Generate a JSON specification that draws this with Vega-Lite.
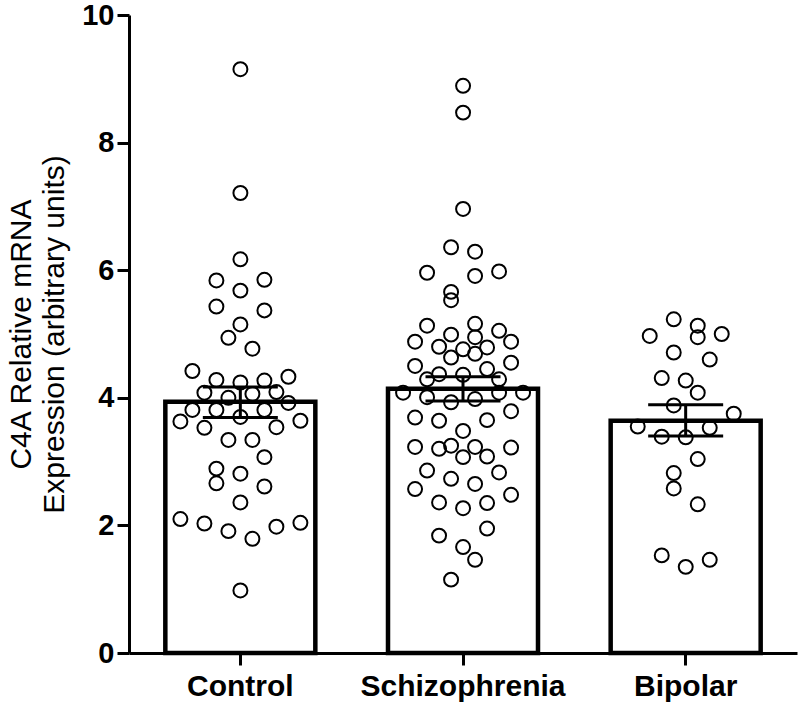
{
  "$schema": "https://vega.github.io/schema/vega-lite/v6.json",
  "width": 668,
  "height": 638,
  "autosize": {"type": "none"},
  "padding": {"left": 129, "top": 15, "right": 3, "bottom": 49},
  "background": "white",
  "config": {
    "view": {"stroke": null},
    "font": "Liberation Sans",
    "axis": {
      "grid": false,
      "domainColor": "black",
      "domainWidth": 3,
      "tickColor": "black",
      "tickWidth": 3,
      "labelColor": "black",
      "labelFont": "Liberation Sans",
      "labelFontWeight": "bold",
      "labelFontSize": 29,
      "labelLimit": 0,
      "titleColor": "black",
      "titleFont": "Liberation Sans"
    }
  },
  "datasets": {
    "summary": [
      {"group": "Control", "mean": 3.94, "lo": 3.69, "hi": 4.17},
      {"group": "Schizophrenia", "mean": 4.14, "lo": 3.95, "hi": 4.33},
      {"group": "Bipolar", "mean": 3.64, "lo": 3.40, "hi": 3.89}
    ],
    "points": [
      {"group": "Control", "value": 9.15, "slot": 0},
      {"group": "Control", "value": 7.21, "slot": 0},
      {"group": "Control", "value": 6.17, "slot": 0},
      {"group": "Control", "value": 5.84, "slot": -2},
      {"group": "Control", "value": 5.85, "slot": 2},
      {"group": "Control", "value": 5.68, "slot": 0},
      {"group": "Control", "value": 5.43, "slot": -2},
      {"group": "Control", "value": 5.37, "slot": 2},
      {"group": "Control", "value": 5.15, "slot": 0},
      {"group": "Control", "value": 4.94, "slot": -1},
      {"group": "Control", "value": 4.77, "slot": 1},
      {"group": "Control", "value": 4.42, "slot": -4},
      {"group": "Control", "value": 4.28, "slot": -2},
      {"group": "Control", "value": 4.24, "slot": 0},
      {"group": "Control", "value": 4.27, "slot": 2},
      {"group": "Control", "value": 4.33, "slot": 4},
      {"group": "Control", "value": 4.08, "slot": -3},
      {"group": "Control", "value": 4.0, "slot": -1},
      {"group": "Control", "value": 4.06, "slot": 1},
      {"group": "Control", "value": 4.09, "slot": 3},
      {"group": "Control", "value": 3.92, "slot": 4},
      {"group": "Control", "value": 3.81, "slot": -4},
      {"group": "Control", "value": 3.81, "slot": -2},
      {"group": "Control", "value": 3.70, "slot": 0},
      {"group": "Control", "value": 3.81, "slot": 2},
      {"group": "Control", "value": 3.63, "slot": -5},
      {"group": "Control", "value": 3.53, "slot": -3},
      {"group": "Control", "value": 3.54, "slot": 3},
      {"group": "Control", "value": 3.64, "slot": 5},
      {"group": "Control", "value": 3.34, "slot": -1},
      {"group": "Control", "value": 3.34, "slot": 1},
      {"group": "Control", "value": 3.07, "slot": 2},
      {"group": "Control", "value": 2.89, "slot": -2},
      {"group": "Control", "value": 2.81, "slot": 0},
      {"group": "Control", "value": 2.66, "slot": -2},
      {"group": "Control", "value": 2.61, "slot": 2},
      {"group": "Control", "value": 2.36, "slot": 0},
      {"group": "Control", "value": 2.10, "slot": -5},
      {"group": "Control", "value": 2.03, "slot": -3},
      {"group": "Control", "value": 1.91, "slot": -1},
      {"group": "Control", "value": 1.79, "slot": 1},
      {"group": "Control", "value": 1.98, "slot": 3},
      {"group": "Control", "value": 2.04, "slot": 5},
      {"group": "Control", "value": 0.98, "slot": 0},
      {"group": "Schizophrenia", "value": 8.89, "slot": 0},
      {"group": "Schizophrenia", "value": 8.47, "slot": 0},
      {"group": "Schizophrenia", "value": 6.96, "slot": 0},
      {"group": "Schizophrenia", "value": 6.36, "slot": -1},
      {"group": "Schizophrenia", "value": 6.29, "slot": 1},
      {"group": "Schizophrenia", "value": 5.96, "slot": -3},
      {"group": "Schizophrenia", "value": 5.91, "slot": 1},
      {"group": "Schizophrenia", "value": 5.98, "slot": 3},
      {"group": "Schizophrenia", "value": 5.66, "slot": -1},
      {"group": "Schizophrenia", "value": 5.53, "slot": -1},
      {"group": "Schizophrenia", "value": 5.13, "slot": -3},
      {"group": "Schizophrenia", "value": 5.16, "slot": 1},
      {"group": "Schizophrenia", "value": 4.99, "slot": -1},
      {"group": "Schizophrenia", "value": 5.05, "slot": 3},
      {"group": "Schizophrenia", "value": 4.88, "slot": -4},
      {"group": "Schizophrenia", "value": 4.95, "slot": 1},
      {"group": "Schizophrenia", "value": 4.88, "slot": 4},
      {"group": "Schizophrenia", "value": 4.80, "slot": -2},
      {"group": "Schizophrenia", "value": 4.76, "slot": 0},
      {"group": "Schizophrenia", "value": 4.79, "slot": 2},
      {"group": "Schizophrenia", "value": 4.63, "slot": -1},
      {"group": "Schizophrenia", "value": 4.69, "slot": 1},
      {"group": "Schizophrenia", "value": 4.50, "slot": -4},
      {"group": "Schizophrenia", "value": 4.45, "slot": 2},
      {"group": "Schizophrenia", "value": 4.55, "slot": 4},
      {"group": "Schizophrenia", "value": 4.29, "slot": -3},
      {"group": "Schizophrenia", "value": 4.37, "slot": -2},
      {"group": "Schizophrenia", "value": 4.36, "slot": 0},
      {"group": "Schizophrenia", "value": 4.29, "slot": 3},
      {"group": "Schizophrenia", "value": 4.08, "slot": -5},
      {"group": "Schizophrenia", "value": 4.01, "slot": -3},
      {"group": "Schizophrenia", "value": 3.93, "slot": -1},
      {"group": "Schizophrenia", "value": 3.98, "slot": 1},
      {"group": "Schizophrenia", "value": 4.08, "slot": 3},
      {"group": "Schizophrenia", "value": 4.08, "slot": 5},
      {"group": "Schizophrenia", "value": 3.69, "slot": -4},
      {"group": "Schizophrenia", "value": 3.64, "slot": -2},
      {"group": "Schizophrenia", "value": 3.65, "slot": 2},
      {"group": "Schizophrenia", "value": 3.79, "slot": 4},
      {"group": "Schizophrenia", "value": 3.48, "slot": 0},
      {"group": "Schizophrenia", "value": 3.23, "slot": -4},
      {"group": "Schizophrenia", "value": 3.20, "slot": -2},
      {"group": "Schizophrenia", "value": 3.25, "slot": -1},
      {"group": "Schizophrenia", "value": 3.23, "slot": 1},
      {"group": "Schizophrenia", "value": 3.07, "slot": 0},
      {"group": "Schizophrenia", "value": 3.08, "slot": 2},
      {"group": "Schizophrenia", "value": 3.22, "slot": 4},
      {"group": "Schizophrenia", "value": 2.86, "slot": -3},
      {"group": "Schizophrenia", "value": 2.83, "slot": 3},
      {"group": "Schizophrenia", "value": 2.73, "slot": -1},
      {"group": "Schizophrenia", "value": 2.65, "slot": 1},
      {"group": "Schizophrenia", "value": 2.57, "slot": -4},
      {"group": "Schizophrenia", "value": 2.48, "slot": 4},
      {"group": "Schizophrenia", "value": 2.36, "slot": -2},
      {"group": "Schizophrenia", "value": 2.27, "slot": 0},
      {"group": "Schizophrenia", "value": 2.35, "slot": 2},
      {"group": "Schizophrenia", "value": 1.95, "slot": 2},
      {"group": "Schizophrenia", "value": 1.84, "slot": -2},
      {"group": "Schizophrenia", "value": 1.66, "slot": 0},
      {"group": "Schizophrenia", "value": 1.46, "slot": 1},
      {"group": "Schizophrenia", "value": 1.15, "slot": -1},
      {"group": "Bipolar", "value": 5.23, "slot": -1},
      {"group": "Bipolar", "value": 5.13, "slot": 1},
      {"group": "Bipolar", "value": 4.97, "slot": -3},
      {"group": "Bipolar", "value": 4.95, "slot": 1},
      {"group": "Bipolar", "value": 5.0, "slot": 3},
      {"group": "Bipolar", "value": 4.71, "slot": -1},
      {"group": "Bipolar", "value": 4.60, "slot": 2},
      {"group": "Bipolar", "value": 4.31, "slot": -2},
      {"group": "Bipolar", "value": 4.27, "slot": 0},
      {"group": "Bipolar", "value": 4.08, "slot": 1},
      {"group": "Bipolar", "value": 3.88, "slot": -1},
      {"group": "Bipolar", "value": 3.75, "slot": 4},
      {"group": "Bipolar", "value": 3.55, "slot": -4},
      {"group": "Bipolar", "value": 3.53, "slot": 2},
      {"group": "Bipolar", "value": 3.39, "slot": -2},
      {"group": "Bipolar", "value": 3.38, "slot": 0},
      {"group": "Bipolar", "value": 3.04, "slot": 1},
      {"group": "Bipolar", "value": 2.82, "slot": -1},
      {"group": "Bipolar", "value": 2.58, "slot": -1},
      {"group": "Bipolar", "value": 2.33, "slot": 1},
      {"group": "Bipolar", "value": 1.53, "slot": -2},
      {"group": "Bipolar", "value": 1.46, "slot": 2},
      {"group": "Bipolar", "value": 1.35, "slot": 0}
    ]
  },
  "encoding": {
    "x": {
      "field": "group",
      "type": "nominal",
      "scale": {"domain": ["Control", "Schizophrenia", "Bipolar"], "paddingInner": 0.327, "paddingOuter": 0.1635},
      "axis": {"title": null, "labelAngle": 0, "tickSize": 12, "labelPadding": 6, "labelFontSize": 30}
    }
  },
  "layer": [
    {
      "data": {"name": "summary"},
      "mark": {"type": "bar", "fill": "white", "width": 150},
      "encoding": {
        "y": {
          "field": "mean",
          "type": "quantitative",
          "scale": {"domain": [0, 10]},
          "axis": {
            "values": [0, 2, 4, 6, 8, 10],
            "format": "d",
            "tickSize": 12,
            "labelPadding": 3,
            "title": ["C4A Relative mRNA", "Expression (arbitrary units)"],
            "titleFontWeight": "normal",
            "titleFontSize": 30,
            "titleLineHeight": 33,
            "titlePadding": 12
          }
        }
      }
    },
    {
      "data": {"name": "points"},
      "mark": {"type": "point", "shape": "circle", "filled": false, "stroke": "black", "strokeWidth": 2, "size": 195, "opacity": 1},
      "encoding": {
        "xOffset": {"field": "slot", "type": "quantitative", "scale": {"domain": [-6.25, 6.25], "range": [0, 150]}},
        "y": {"field": "value", "type": "quantitative"}
      }
    },
    {
      "data": {"name": "summary"},
      "mark": {"type": "bar", "fill": null, "fillOpacity": 0, "stroke": "black", "strokeWidth": 4.5, "width": 150},
      "encoding": {"y": {"field": "mean", "type": "quantitative"}}
    },
    {
      "data": {"name": "summary"},
      "mark": {"type": "rule", "strokeWidth": 3, "color": "black", "opacity": 1},
      "encoding": {"y": {"field": "lo", "type": "quantitative"}, "y2": {"field": "hi"}}
    },
    {
      "data": {"name": "summary"},
      "mark": {"type": "tick", "orient": "horizontal", "size": 75, "thickness": 3, "color": "black", "opacity": 1},
      "encoding": {"y": {"field": "hi", "type": "quantitative"}}
    },
    {
      "data": {"name": "summary"},
      "mark": {"type": "tick", "orient": "horizontal", "size": 75, "thickness": 3, "color": "black", "opacity": 1},
      "encoding": {"y": {"field": "lo", "type": "quantitative"}}
    }
  ]
}
